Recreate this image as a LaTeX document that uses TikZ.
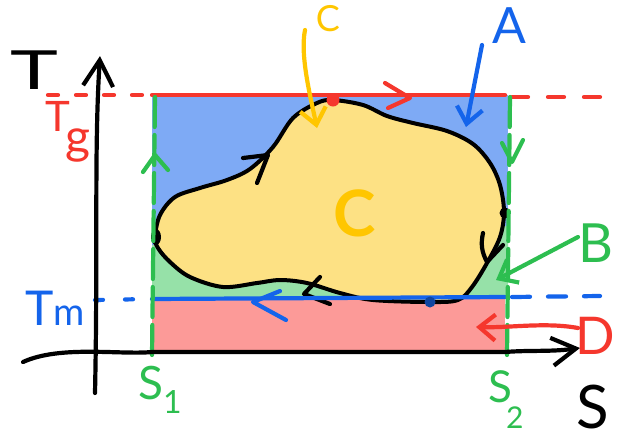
\documentclass[tikz,border=0pt]{standalone}
\usepackage{fontspec}
\setmainfont{Lato}
\usetikzlibrary{arrows.meta}
\definecolor{fillblue}{RGB}{126,170,245}
\definecolor{fillgreen}{RGB}{150,225,168}
\definecolor{fillpink}{RGB}{252,154,152}
\definecolor{fillyellow}{RGB}{253,225,132}
\definecolor{penred}{RGB}{245,55,45}
\definecolor{penblue}{RGB}{20,100,235}
\definecolor{pengreen}{RGB}{45,190,80}
\definecolor{penyellow}{RGB}{255,198,0}
\definecolor{pendark}{RGB}{15,70,160}
\begin{document}
\begin{tikzpicture}[x=1pt,y=-1pt,
  pen/.style={line width=4.2pt,line cap=round,line join=round},
  barb/.style={-{Straight Barb[length=16pt,width=26pt,line width=4.2pt]}},
  lbl/.style={inner sep=0pt,anchor=center}]
\useasboundingbox (0,0) rectangle (626,440);
\clip (0,0) rectangle (626,440);
% fills
\fill[fillblue] (152,95) rectangle (508,298);
\fill[fillgreen] (152,245) -- (508,226) -- (508,298) -- (152,298) -- cycle;
\fill[fillpink] (152,298) rectangle (505,353);
% cycle
\draw[line width=4pt,fill=fillyellow,line join=round]
  plot[smooth cycle,tension=0.55] coordinates{
  (155,237) (160,215) (175,197) (200,188) (227,180) (250,169) (273,147)
  (293,118) (317,103) (333,100) (363,105) (387,116) (413,123) (447,131)
  (473,144) (490,163) (500,185) (504,212) (500,237) (487,263) (472,287)
  (458,300) (430,302) (373,300) (340,293) (307,283) (280,280) (257,283)
  (223,287) (190,277) (170,262) (158,248)};
\fill (156,237) ellipse (5pt and 8pt);
\fill (505,213) circle (5.5pt);
% arrows on the cycle
\draw[pen] (243,158) -- (268,155) -- (257,183);
\draw[pen] (483,233) to[bend right=20] (487,262) -- (503,245);
\draw[pen] (320,277) -- (304,294) -- (330,304);
% red level Tg
\draw[pen,penred] (152,95) -- (505,95);
\draw[pen,penred,dash pattern=on 10pt off 18pt] (48,95) -- (150,95);
\draw[pen,penred,dash pattern=on 16pt off 20pt] (512,97) -- (600,97);
\draw[pen,penred] (385,83) -- (410,98) -- (388,108);
\fill[penred] (333,100) circle (6.5pt);
% blue level Tm
\draw[pen,penblue] (152,299) -- (505,297);
\draw[pen,penblue,dash pattern=on 8pt off 22pt] (95,300) -- (150,299);
\draw[pen,penblue,dash pattern=on 18pt off 18pt] (512,297) -- (600,296);
\draw[pen,penblue] (280,291) -- (253,302) -- (286,320);
\fill[pendark] (430,302) circle (5.5pt);
% green boundaries S1, S2
\draw[pen,pengreen,dash pattern=on 30pt off 8pt] (155,97) -- (152,355);
\draw[pen,pengreen,dash pattern=on 30pt off 8pt] (510,97) -- (507,355);
\draw[pen,pengreen] (143,172) -- (155,155) -- (168,170);
\draw[pen,pengreen] (502,143) -- (512,162) -- (523,140);
% axes
\coordinate (ybot) at (95,393);
\coordinate (ytop) at (100,56);
\coordinate (xleft) at (23,362);
\coordinate (xright) at (580,348);
\draw[pen,-{Straight Barb[length=26pt,width=30pt,line width=4.2pt]}] (ybot) .. controls (98,250) and (94,150) .. (ytop);
\draw[pen,-{Straight Barb[length=24pt,width=28pt,line width=4.2pt]}] (xleft) .. controls (60,345) and (120,355) .. (152,352) -- (505,352) .. controls (530,350) and (550,352) .. (xright);
% labels
\node[lbl,font=\fontsize{54}{54}\selectfont] (T) at (34,70) {\scalebox{1.5}[1]{T}};
\node[lbl,font=\fontsize{42}{42}\selectfont,text=penred] (Tg) at (68,132) {T\kern-4pt\raisebox{-22pt}{\fontsize{48}{48}\selectfont g}};
\node[lbl,font=\fontsize{48}{48}\selectfont,text=penblue] (Tm) at (55,308) {T\kern-1pt{\fontsize{38}{38}\selectfont m}};
\node[lbl,font=\fontsize{46}{46}\selectfont,text=pengreen] (S1) at (160,390) {S\raisebox{-14pt}{\fontsize{32}{32}\selectfont 1}};
\node[lbl,font=\fontsize{44}{44}\selectfont,text=pengreen] (S2) at (506,400) {S\raisebox{-26pt}{\kern-6pt\fontsize{30}{30}\selectfont 2}};
\node[lbl,font=\fontsize{60}{60}\selectfont] (S) at (593,407) {S};
\node[lbl,font=\fontsize{50}{50}\selectfont,text=penblue] (A) at (509,26) {A};
\node[lbl,font=\fontsize{54}{54}\selectfont,text=pengreen] (B) at (596,243) {B};
\node[lbl,font=\fontsize{52}{52}\selectfont,text=penred] (D) at (595,336) {D};
\node[lbl,font=\fontsize{36}{36}\selectfont,text=penyellow] (Ctop) at (328,19) {C};
\node[lbl,font=\fontsize{64}{64}\selectfont\bfseries,text=penyellow] (Cmid) at (355,213) {C};
% label pointers
\coordinate (a0) at (482,45);
\coordinate (a1) at (466,127);
\draw[pen,penblue,barb] (a0) -- (a1);
\coordinate (b0) at (578,237);
\coordinate (b1) at (496,280);
\draw[pen,pengreen,barb] (b0) -- (b1);
\coordinate (c0) at (305,30);
\coordinate (c1) at (317,128);
\draw[pen,penyellow,barb] (c0) .. controls (300,55) and (310,95) .. (c1);
\coordinate (d0) at (578,328);
\coordinate (d1) at (476,327);
\draw[pen,penred,barb] (d0) .. controls (545,322) and (510,328) .. (d1);
\end{tikzpicture}
\end{document}
